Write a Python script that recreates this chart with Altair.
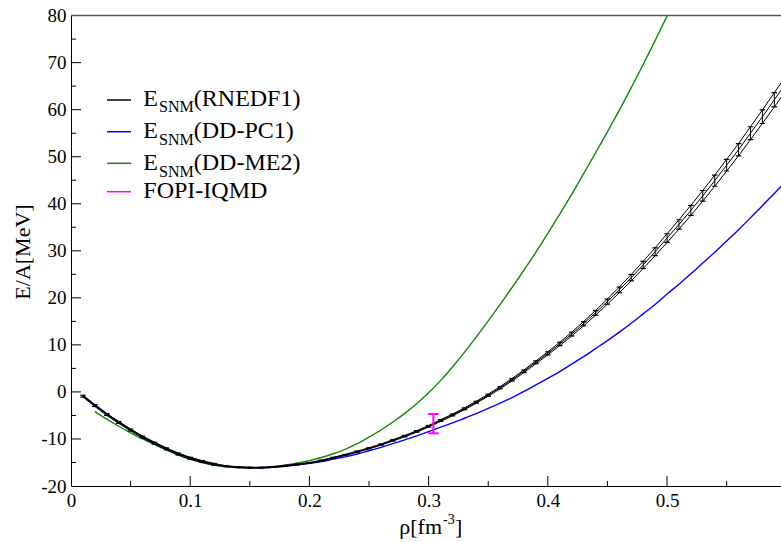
import altair as alt
import pandas as pd

# ---------------- data ----------------
rho = [0.01, 0.02, 0.03, 0.04, 0.05, 0.06, 0.07, 0.08, 0.09, 0.10,
       0.11, 0.12, 0.13, 0.14, 0.15, 0.16, 0.17, 0.18, 0.19, 0.20,
       0.21, 0.22, 0.23, 0.24, 0.25, 0.26, 0.27, 0.28, 0.29, 0.30,
       0.31, 0.32, 0.33, 0.34, 0.35, 0.36, 0.37, 0.38, 0.39, 0.40,
       0.41, 0.42, 0.43, 0.44, 0.45, 0.46, 0.47, 0.48, 0.49, 0.50,
       0.51, 0.52, 0.53, 0.54, 0.55, 0.56, 0.57, 0.58, 0.59, 0.60]

e_rnedf1 = [-0.9, -2.9, -4.8, -6.5, -8.1, -9.6, -10.9, -12.1, -13.2, -14.1,
            -14.8, -15.4, -15.8, -16.0, -16.1, -16.1, -15.95, -15.7, -15.4, -15.1,
            -14.6, -14.0, -13.4, -12.7, -12.0, -11.2, -10.3, -9.4, -8.4, -7.3,
            -6.1, -4.9, -3.6, -2.2, -0.7, 0.9, 2.6, 4.4, 6.3, 8.2,
            10.2, 12.3, 14.5, 16.8, 19.2, 21.7, 24.3, 27.0, 29.8, 32.7,
            35.6, 38.6, 41.7, 44.9, 48.2, 51.5, 55.0, 58.5, 62.1, 65.7]

err_rnedf1 = [0.2, 0.2, 0.2, 0.2, 0.2, 0.2, 0.2, 0.2, 0.2, 0.2,
              0.2, 0.2, 0.1, 0.1, 0.1, 0.1, 0.1, 0.1, 0.1, 0.1,
              0.1, 0.1, 0.12, 0.12, 0.13, 0.13, 0.14, 0.15, 0.16, 0.17,
              0.18, 0.19, 0.2, 0.21, 0.22, 0.24, 0.26, 0.28, 0.3, 0.32,
              0.36, 0.4, 0.45, 0.5, 0.55, 0.6, 0.68, 0.76, 0.84, 0.92,
              1.0, 1.06, 1.12, 1.18, 1.24, 1.3, 1.37, 1.44, 1.52, 1.6]

e_ddpc1 = [-0.8, -2.75, -4.65, -6.35, -7.95, -9.45, -10.8, -12.0, -13.1, -14.0,
           -14.75, -15.35, -15.75, -16.0, -16.1, -16.1, -16.0, -15.8, -15.5, -15.2,
           -14.8, -14.3, -13.8, -13.2, -12.5, -11.8, -11.0, -10.2, -9.35, -8.45,
           -7.5, -6.6, -5.6, -4.6, -3.5, -2.4, -1.2, 0.1, 1.5, 2.9,
           4.3, 5.9, 7.5, 9.2, 10.9, 12.7, 14.6, 16.6, 18.6, 20.8,
           22.9, 25.1, 27.4, 29.7, 32.1, 34.5, 37.0, 39.6, 42.2, 44.8]

rho_ddme2 = [0.02, 0.03, 0.04, 0.05, 0.06, 0.07, 0.08, 0.09, 0.10, 0.11,
             0.12, 0.13, 0.14, 0.15, 0.16, 0.17, 0.18, 0.19, 0.20, 0.21,
             0.22, 0.23, 0.24, 0.25, 0.26, 0.27, 0.28, 0.29, 0.30, 0.31,
             0.32, 0.33, 0.34, 0.35, 0.36, 0.37, 0.38, 0.39, 0.40, 0.41,
             0.42, 0.43, 0.44, 0.45, 0.46, 0.47, 0.48, 0.49, 0.50, 0.51]
e_ddme2 = [-4.2, -5.8, -7.3, -8.7, -10.0, -11.2, -12.3, -13.45, -14.35, -15.0,
           -15.5, -15.9, -16.1, -16.15, -16.1, -15.9, -15.55, -15.1, -14.6, -13.95,
           -13.15, -12.2, -11.0, -9.6, -8.1, -6.4, -4.55, -2.5, -0.2, 2.4,
           5.3, 8.4, 11.7, 15.1, 18.6, 22.2, 25.9, 29.7, 33.7, 37.8,
           42.0, 46.4, 50.8, 55.3, 59.9, 64.7, 69.6, 74.7, 79.9, 85.2]

fopi_rho = [0.304]
fopi_lo = [-8.8]
fopi_hi = [-4.7]

x_major = [0.1, 0.2, 0.3, 0.4, 0.5]
x_minor = [0.05, 0.15, 0.25, 0.35, 0.45, 0.55]
y_major = [-10, 0, 10, 20, 30, 40, 50, 60, 70]
y_minor = [-15, -5, 5, 15, 25, 35, 45, 55, 65, 75]
x_labels = [0, 0.1, 0.2, 0.3, 0.4, 0.5]
y_labels = [-20, -10, 0, 10, 20, 30, 40, 50, 60, 70, 80]

# ---------------- layout ----------------
W, H = 710, 470.4
FONT = "Liberation Serif"

df_black = pd.DataFrame({
    "rho": rho,
    "e": e_rnedf1,
    "lo": [a - b for a, b in zip(e_rnedf1, err_rnedf1)],
    "hi": [a + b for a, b in zip(e_rnedf1, err_rnedf1)],
})
df_blue = pd.DataFrame({"rho": rho, "e": e_ddpc1})
df_green = pd.DataFrame({"rho": rho_ddme2, "e": e_ddme2})
df_fopi = pd.DataFrame({"rho": fopi_rho, "lo": fopi_lo, "hi": fopi_hi})
dummy = alt.Data(values=[{}])

xs = alt.Scale(domain=[0, 0.5956], nice=False, zero=False)
ys = alt.Scale(domain=[-20, 80], nice=False, zero=False)

x_axis = alt.Axis(values=x_labels, ticks=False, grid=False, title=None,
                  domainColor="black", domainWidth=1,
                  labelFont=FONT, labelFontSize=19, labelColor="black",
                  labelPadding=5, labelExpr="'' + datum.value", labelFlush=False)
y_axis = alt.Axis(values=y_labels, ticks=False, grid=False, title=None,
                  domainColor="black", domainWidth=1,
                  labelFont=FONT, labelFontSize=19, labelColor="black",
                  labelPadding=5, labelExpr="'' + datum.value", labelFlush=False)


def X(f):
    return alt.X(f, type="quantitative", scale=xs, axis=x_axis)


def Y(f):
    return alt.Y(f, type="quantitative", scale=ys, axis=y_axis)


layers = []

green = alt.Chart(df_green).mark_line(color="#0b8a0b", strokeWidth=1.4, clip=True,
                                      interpolate="monotone").encode(x=X("rho"), y=Y("e"))
blue = alt.Chart(df_blue).mark_line(color="#0000ff", strokeWidth=1.4, clip=True,
                                    interpolate="monotone").encode(x=X("rho"), y=Y("e"))
layers += [green, blue]

for f in ["lo", "e", "hi"]:
    layers.append(alt.Chart(df_black).mark_line(color="black", strokeWidth=1, clip=True).encode(
        x=X("rho"), y=Y(f)))

layers.append(alt.Chart(df_black).mark_rule(color="black", strokeWidth=1, clip=True).encode(
    x=X("rho"), y=Y("lo"), y2="hi"))
for f in ["lo", "hi"]:
    layers.append(alt.Chart(df_black).mark_point(
        shape="M-1,0L1,0", size=30, filled=False, color="black", strokeWidth=1.2,
        opacity=1, clip=True).encode(x=X("rho"), y=Y(f)))

# FOPI-IQMD error bar
layers.append(alt.Chart(df_fopi).mark_rule(color="#ff00ff", strokeWidth=2).encode(
    x=X("rho"), y=Y("lo"), y2="hi"))
for f in ["lo", "hi"]:
    layers.append(alt.Chart(df_fopi).mark_point(
        shape="M-1,0L1,0", size=110, filled=False, color="#ff00ff", strokeWidth=2,
        opacity=1).encode(x=X("rho"), y=Y(f)))

# inward ticks
tick_x_major = pd.DataFrame({"v": x_major})
tick_x_minor = pd.DataFrame({"v": x_minor})
tick_y_major = pd.DataFrame({"v": y_major})
tick_y_minor = pd.DataFrame({"v": y_minor})
layers.append(alt.Chart(tick_x_major).mark_rule(color="black", strokeWidth=1).encode(
    x=X("v"), y=alt.value(H), y2=alt.value(H - 10)))
layers.append(alt.Chart(tick_x_minor).mark_rule(color="black", strokeWidth=1).encode(
    x=X("v"), y=alt.value(H), y2=alt.value(H - 5)))
layers.append(alt.Chart(tick_y_major).mark_rule(color="black", strokeWidth=1).encode(
    y=Y("v"), x=alt.value(0), x2=alt.value(10)))
layers.append(alt.Chart(tick_y_minor).mark_rule(color="black", strokeWidth=1).encode(
    y=Y("v"), x=alt.value(0), x2=alt.value(5)))

# top frame line
layers.append(alt.Chart(dummy).mark_rule(color="#555555", strokeWidth=1.5).encode(
    x=alt.value(0), x2=alt.value(W), y=alt.value(0)))


def txt(s, x, y, size, align="left", baseline="alphabetic", angle=None):
    kw = dict(font=FONT, fontSize=size, color="black", align=align, baseline=baseline)
    if angle is not None:
        kw["angle"] = angle
    return alt.Chart(dummy).mark_text(**kw).encode(
        x=alt.value(x), y=alt.value(y), text=alt.value(s))


# legend
legend_rows = [
    ("(RNEDF1)", "black", 84.4, 90.1, True),
    ("(DD-PC1)", "#0000ff", 116.1, 122.7, True),
    ("(DD-ME2)", "#0b8a0b", 147.7, 154.4, True),
    ("FOPI-IQMD", "#ff00ff", 176.1, 182.1, False),
]
for label, col, yl, yb, sub in legend_rows:
    layers.append(alt.Chart(dummy).mark_rule(color=col, strokeWidth=1.5).encode(
        x=alt.value(36), x2=alt.value(60), y=alt.value(yl)))
    if sub:
        layers.append(txt("E", 72.3, yb, 24))
        layers.append(txt("SNM", 88, yb + 6.5, 16))
        layers.append(txt(label, 122.8, yb, 24))
    else:
        layers.append(txt(label, 72.3, yb, 24))

# axis titles
layers.append(txt("ρ[fm", 371, 518, 22, align="right"))
layers.append(txt("-3", 372, 508, 14))
layers.append(txt("]", 384, 518, 22))
layers.append(txt("E/A[MeV]", -48, 236.4, 22, align="center", baseline="middle", angle=270))

chart = alt.layer(*layers).properties(
    width=W, height=H,
    padding={"left": 71, "top": 15.6, "right": 0, "bottom": 56},
    autosize=alt.AutoSizeParams(type="none"),
    background="white",
).configure_view(stroke=None)

chart.save("out.html", embed_options={"renderer": "svg", "actions": False})
